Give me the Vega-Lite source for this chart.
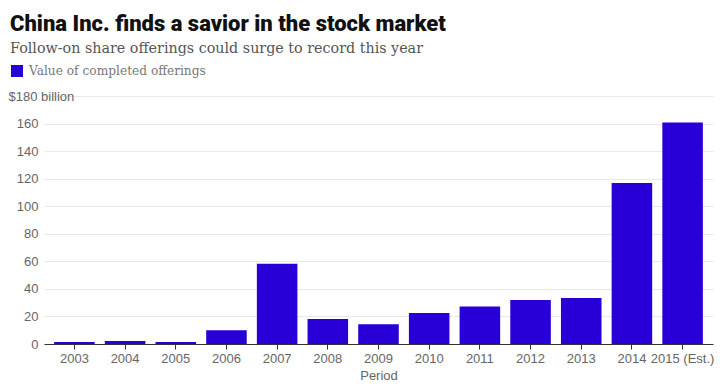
{
  "$schema": "https://vega.github.io/schema/vega-lite/v6.json",
  "width": 669,
  "height": 248,
  "autosize": {"type": "none"},
  "padding": {"left": 44, "top": 96, "right": 12, "bottom": 47},
  "background": "white",
  "title": {
    "text": "China Inc. finds a savior in the stock market",
    "subtitle": "Follow-on share offerings could surge to record this year",
    "anchor": "start",
    "frame": "group",
    "dx": -34,
    "dy": -7,
    "font": "Roboto",
    "fontSize": 22,
    "fontWeight": 900,
    "color": "#111111",
    "subtitleFont": "DejaVu Serif",
    "subtitleFontSize": 14.3,
    "subtitleColor": "#555555",
    "subtitlePadding": 6,
    "offset": 0
  },
  "data": {
    "values": [
      {"Period": "2003", "value": 1.4, "series": "Value of completed offerings"},
      {"Period": "2004", "value": 2.2, "series": "Value of completed offerings"},
      {"Period": "2005", "value": 1.4, "series": "Value of completed offerings"},
      {"Period": "2006", "value": 9.9, "series": "Value of completed offerings"},
      {"Period": "2007", "value": 58.3, "series": "Value of completed offerings"},
      {"Period": "2008", "value": 18.1, "series": "Value of completed offerings"},
      {"Period": "2009", "value": 14.3, "series": "Value of completed offerings"},
      {"Period": "2010", "value": 22.5, "series": "Value of completed offerings"},
      {"Period": "2011", "value": 27.3, "series": "Value of completed offerings"},
      {"Period": "2012", "value": 31.9, "series": "Value of completed offerings"},
      {"Period": "2013", "value": 33.4, "series": "Value of completed offerings"},
      {"Period": "2014", "value": 116.8, "series": "Value of completed offerings"},
      {"Period": "2015 (Est.)", "value": 160.8, "series": "Value of completed offerings"}
    ]
  },
  "mark": {"type": "bar"},
  "encoding": {
    "x": {
      "field": "Period",
      "type": "nominal",
      "sort": null,
      "scale": {"paddingInner": 0.2, "paddingOuter": 0.2},
      "axis": {
        "labelAngle": 0,
        "labelFont": "Liberation Sans",
        "labelFontSize": 13,
        "labelColor": "#666666",
        "labelPadding": 3,
        "domainColor": "#333333",
        "tickColor": "#333333",
        "tickSize": 5,
        "titleFont": "Liberation Sans",
        "titleFontSize": 13,
        "titleFontWeight": "normal",
        "titleColor": "#666666",
        "titlePadding": 4
      }
    },
    "y": {
      "field": "value",
      "type": "quantitative",
      "scale": {"domain": [0, 180]},
      "axis": {
        "title": null,
        "values": [0, 20, 40, 60, 80, 100, 120, 140, 160, 180],
        "labelExpr": "datum.value == 180 ? '$180 billion' : datum.label",
        "labelAlign": {"condition": {"test": "datum.value == 180", "value": "left"}, "value": "right"},
        "labelPadding": {"condition": {"test": "datum.value == 180", "value": 36}, "value": 6},
        "labelFont": "Liberation Sans",
        "labelFontSize": 13,
        "labelColor": "#666666",
        "ticks": false,
        "domain": false,
        "gridColor": "#e9e9e9"
      }
    },
    "color": {
      "field": "series",
      "type": "nominal",
      "scale": {"range": ["#2800d7"]},
      "legend": {
        "title": null,
        "orient": "none",
        "legendX": -34,
        "legendY": -32,
        "padding": 0,
        "symbolType": "square",
        "symbolSize": 144,
        "symbolOpacity": 1,
        "labelFont": "DejaVu Serif",
        "labelFontSize": 12.2,
        "labelColor": "#777777",
        "labelOffset": 5,
        "labelLimit": 400
      }
    }
  },
  "config": {"view": {"stroke": null}}
}
